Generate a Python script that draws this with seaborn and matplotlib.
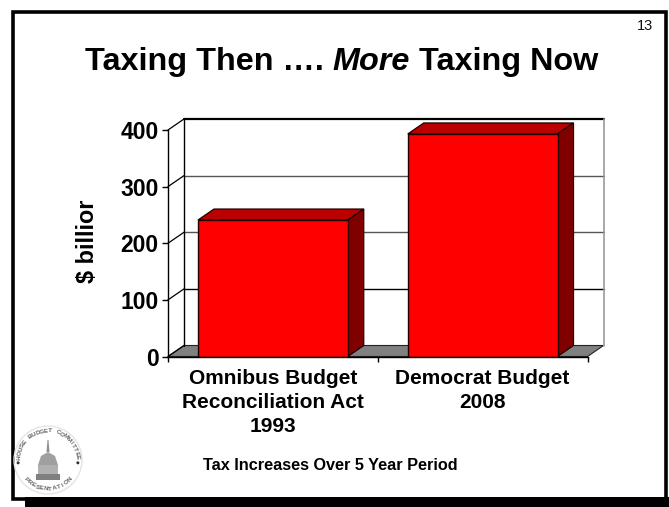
import matplotlib
matplotlib.use("Agg")
import numpy as np
import matplotlib.pyplot as plt
from matplotlib.patches import Polygon, Rectangle, Circle
from matplotlib.transforms import blended_transform_factory
import seaborn as sns

categories = ["Omnibus Budget\nReconciliation Act\n1993", "Democrat Budget\n2008"]
tax_increases = [241, 393]
y_ticks = [0, 100, 200, 300, 400]
y_label = "$ billior"
footnote = "Tax Increases Over 5 Year Period"
page_number = "13"
logo_top = "HOUSE BUDGET COMMITTEE"
logo_bottom = "PRESENTATION"

W, H = 669, 507
sns.set_theme(style="white")
plt.rcParams["font.family"] = ["Liberation Sans", "DejaVu Sans"]

fig = plt.figure(figsize=(W / 100, H / 100), dpi=100, facecolor="white")

# Slide furniture lives on a pixel-scaled layer behind the chart
page = fig.add_axes([0, 0, 1, 1], zorder=0)
page.set_xlim(0, W)
page.set_ylim(H, 0)
page.axis("off")
page.add_patch(Rectangle((12.5, 11.5), 653.5, 487, fill=False, ec="black", lw=2.6))
page.add_patch(Rectangle((25, 497), 644, 10, fc="black", ec="none"))

# Front plane of the 3-D chart
left, right, bottom, top = 168, 587.5, 356.5, 130
ax = fig.add_axes([left / W, 1 - bottom / H, (right - left) / W, (bottom - top) / H], zorder=1)
ax.patch.set_alpha(0)

sns.barplot(x=list(range(len(categories))), y=tax_increases, color="#ff0000", saturation=1,
            width=0.714, edgecolor="#200000", linewidth=1.0, ax=ax, zorder=3, native_scale=True)
ax.set_xlim(-0.5, 1.5)
ax.set_ylim(0, 400)

# Depth of the extrusion, in data units
dx = 16 / (right - left) * 2
dy = 11 / (bottom - top) * 400
x0, x1 = ax.get_xlim()

ax.add_patch(Polygon([(x0, 0), (x1, 0), (x1 + dx, dy), (x0 + dx, dy)], closed=True,
                     fc="#808080", ec="#222222", lw=0.8, clip_on=False, zorder=1))
for v in y_ticks:
    if v == 0:
        continue
    line_col = "#000000" if v in (100, 400) else "#555555"
    ax.plot([x0 + dx, x1 + dx], [v + dy, v + dy], color=line_col,
            lw=1.6 if v == 400 else 1.0, clip_on=False, zorder=1.2)
    ax.plot([x0, x0 + dx], [v, v + dy], color="black", lw=0.9, clip_on=False, zorder=1.2)
ax.plot([x0 + dx, x0 + dx], [dy, 400 + dy], color="black", lw=1.0, clip_on=False, zorder=1.2)
ax.plot([x1 + dx, x1 + dx], [dy, 400 + dy], color="#999999", lw=1.2, clip_on=False, zorder=1.2)
ax.plot([x0, x0 + dx], [0, dy], color="black", lw=0.9, clip_on=False, zorder=1.2)

# Top and side faces of each column
for bar in ax.patches:
    if not isinstance(bar, Rectangle):
        continue
    bx0, bx1, h = bar.get_x(), bar.get_x() + bar.get_width(), bar.get_height()
    ax.add_patch(Polygon([(bx0, h), (bx1, h), (bx1 + dx, h + dy), (bx0 + dx, h + dy)], closed=True,
                         fc="#bb0000", ec="#200000", lw=0.9, clip_on=False, zorder=2.8))
    ax.add_patch(Polygon([(bx1, 0), (bx1 + dx, dy), (bx1 + dx, h + dy), (bx1, h)], closed=True,
                         fc="#800000", ec="#200000", lw=0.9, clip_on=False, zorder=2.8))

for side in ("top", "right"):
    ax.spines[side].set_visible(False)
for side in ("left", "bottom"):
    ax.spines[side].set_linewidth(1.0)
    ax.spines[side].set_color("black")
    ax.spines[side].set_zorder(4)

ax.set_yticks(y_ticks)
ax.set_yticklabels([str(v) for v in y_ticks], fontsize=16.5, fontweight="bold", color="black")
ax.set_xticks([0, 1])
ax.set_xticklabels([])
ax.set_xticks([-0.5, 0.5, 1.5], minor=True)
ax.tick_params(axis="y", which="major", left=True, length=4.4, width=1.0, pad=2.5, color="black")
ax.tick_params(axis="x", which="major", bottom=False)
ax.tick_params(axis="x", which="minor", bottom=True, length=3.6, width=1.0, color="black")

trans = blended_transform_factory(ax.transData, page.transData)
for pos, name in enumerate(categories):
    page.text(pos, 369.5, name, transform=trans, ha="center", va="top", fontsize=15,
              fontweight="bold", linespacing=1.31, color="black", zorder=5, clip_on=False)

page.text(88, 241, y_label, rotation=90, ha="center", va="center", fontsize=16.8,
          fontweight="bold", color="black")

# Title, with the italic word set in its own run
fig.canvas.draw()
renderer = fig.canvas.get_renderer()
cursor = 85
title_runs = [("Taxing Then …. ", "normal"), ("More", "italic"), (" Taxing Now", "normal")]
for run, style in title_runs:
    t = page.text(cursor, 70, run.replace(" ", "\u00a0"), fontsize=23.3, fontweight="bold", style=style,
                  ha="left", va="baseline", color="black")
    ext = t.get_window_extent(renderer)
    cursor = ext.x1

page.text(330, 465, footnote, ha="center", va="center", fontsize=11.7, fontweight="bold", color="black")
page.text(645.5, 26, page_number, ha="center", va="center", fontsize=10.5, color="#111111")

# Committee seal: ring lettering and a small capitol dome
cx, cy, r = 48, 460, 33
page.add_patch(Circle((cx, cy), r + 1, fc="none", ec="#e4e4e4", lw=1.0))


def ring_text(text, start, end, radius, flip=False):
    for ch, ang in zip(text, np.linspace(start, end, len(text))):
        a = np.deg2rad(ang)
        rot = ang - 90 if not flip else ang + 90
        page.text(cx + radius * np.cos(a), cy - radius * np.sin(a), ch, rotation=rot,
                  rotation_mode="anchor", ha="center", va="center", fontsize=4.6,
                  fontweight="bold", color="#666666")


ring_text(logo_top, 175, 5, r - 4)
ring_text(logo_bottom, 222, 318, r - 4, flip=True)
for a in (np.pi * 1.03, -np.pi * 0.03):
    page.add_patch(Circle((cx + (r - 3) * np.cos(a), cy - (r - 3) * np.sin(a)), 1.5, fc="#333333", ec="none"))
page.add_patch(Rectangle((36, 474), 24, 6, fc="#808080", ec="none"))
page.add_patch(Rectangle((38, 465), 20, 9, fc="#b0b0b0", ec="none"))
page.add_patch(Polygon([(38, 465), (41, 456), (48, 452), (55, 456), (58, 465)], closed=True, fc="#a0a0a0", ec="none"))
page.add_patch(Polygon([(46.5, 452), (47.5, 440), (48.5, 440), (49.5, 452)], closed=True, fc="#909090", ec="none"))

fig.savefig("out.png", dpi=100)
